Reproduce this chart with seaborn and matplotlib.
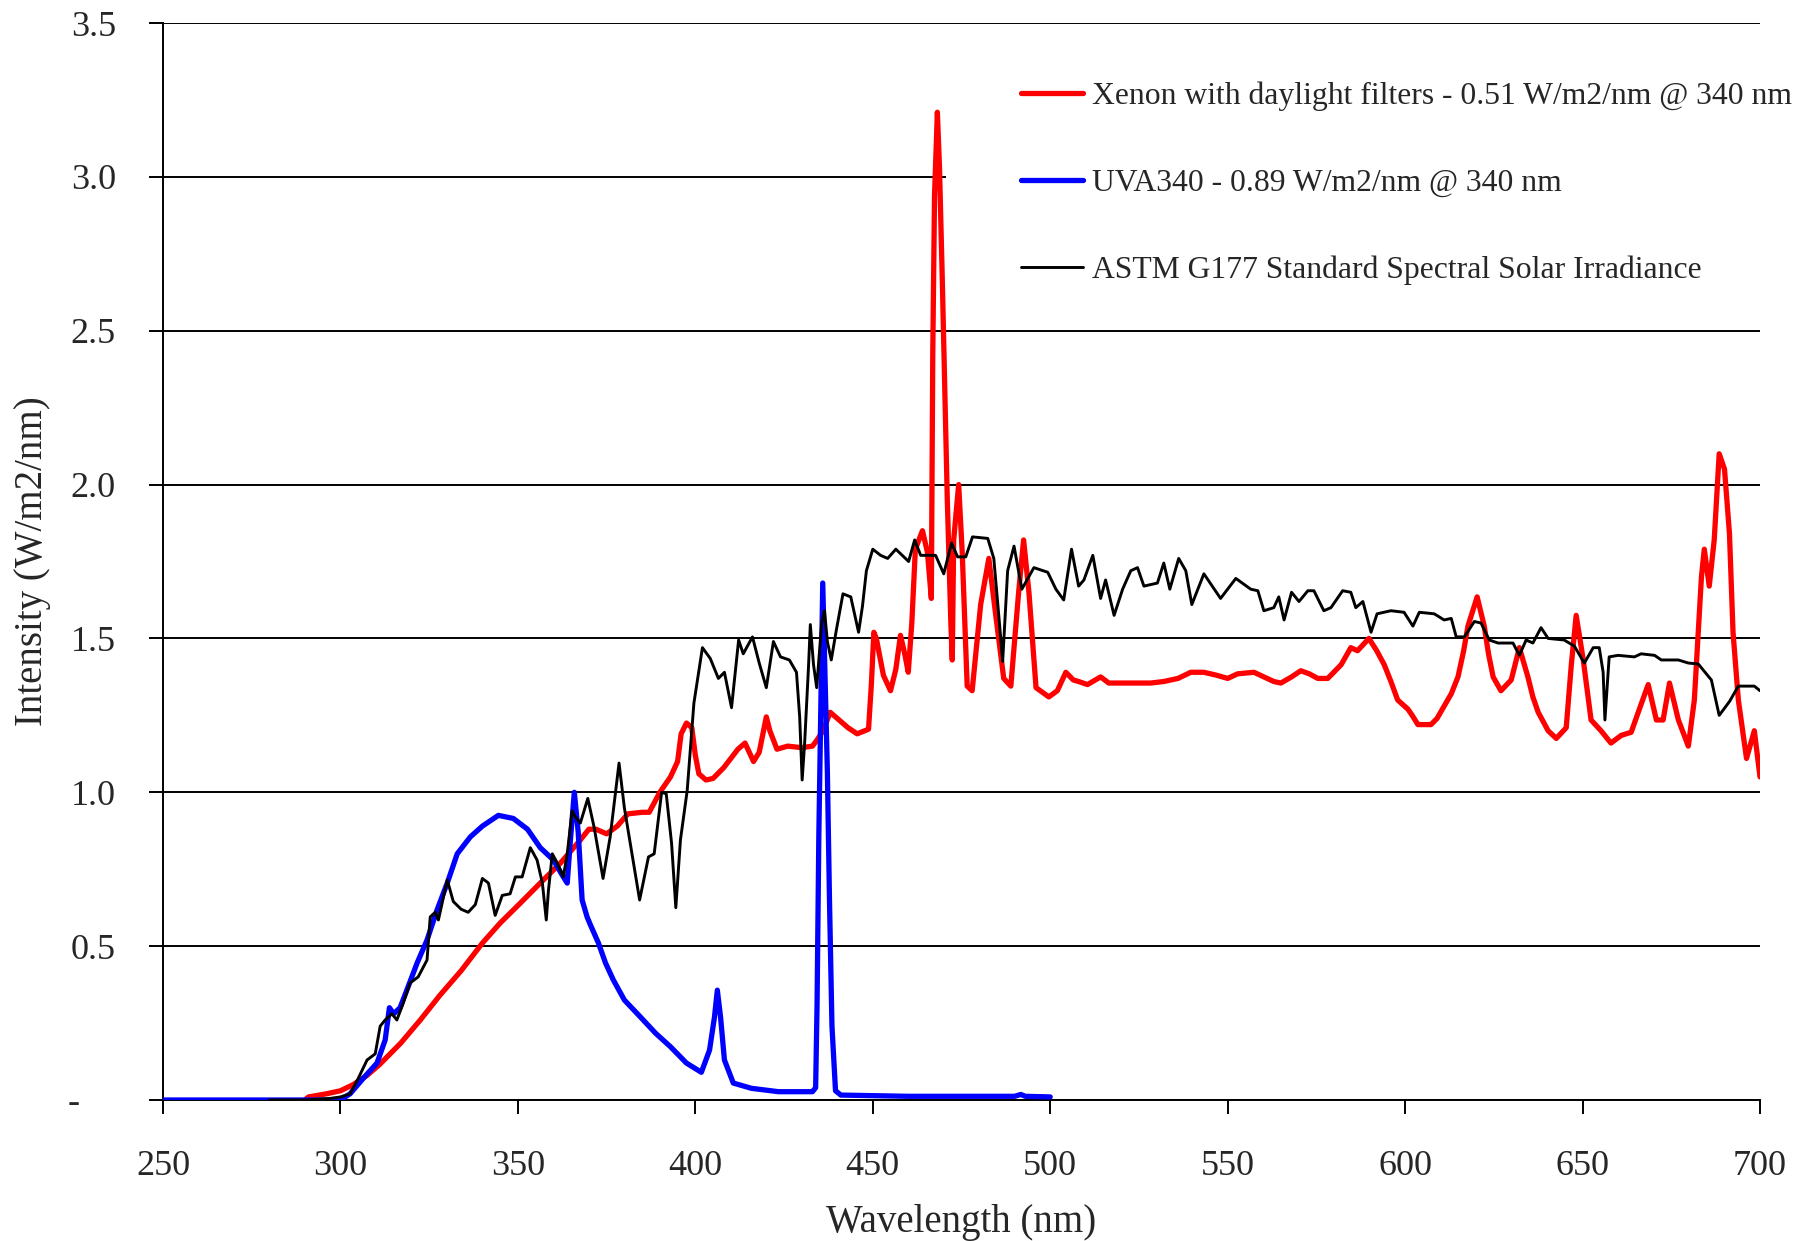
import matplotlib
matplotlib.use("Agg")
import matplotlib.pyplot as plt
from matplotlib.patches import Rectangle
import seaborn as sns
import pandas as pd

# Xenon arc lamp with daylight filters
xenon_nm = [290, 291, 296, 300, 303.6, 307.5, 311, 317, 322.5, 328, 334, 340, 345, 350.7, 356.3,
            362, 367.6, 370, 372, 375, 378, 381, 385, 387, 390, 393, 395, 396, 397.5, 399, 400,
            401, 403, 405, 408, 410, 412, 414, 416.4, 418, 420, 421, 423, 426, 430, 433, 434.3,
            436, 438, 440, 443, 445.6, 448.8, 449.6, 450.3, 451, 453, 455, 456.5, 457.8, 459, 460,
            461, 462, 464, 465.4, 466.5, 466.9, 467.4, 468.2, 468.8, 469.6, 470.3, 471, 472, 472.4,
            472.8, 474.2, 475.2, 476.6, 478, 480.4, 482.7, 484.6, 486.9, 488.9, 491.1, 492.5, 494,
            496, 499.6, 502, 504.4, 506.5, 508, 510.5, 514.2, 516.5, 521.8, 528.3, 532, 536, 539.6,
            543.3, 547, 550, 552.8, 557.4, 560.2, 563, 565, 568, 570.6, 573, 575.4, 578.2, 582,
            584.7, 586.6, 589.8, 592, 594.1, 596, 597.9, 600.8, 602, 603.6, 607.3, 609, 611, 613,
            614.9, 616.5, 617.7, 620.3, 622.3, 623.5, 624.8, 627, 629.9, 632.2, 634.6, 636, 637.5,
            640.3, 642.6, 645.4, 646.8, 648.2, 650.2, 652.4, 655.2, 658, 660.9, 663.7, 666, 668.5,
            670.8, 672.7, 674.5, 677, 679.8, 681.5, 683.5, 684.3, 685.7, 687.1, 688.5, 690, 691.4,
            692.4, 693.9, 696.2, 698.4, 700]
xenon_val = [0.0, 0.01, 0.02, 0.03, 0.05, 0.08, 0.115, 0.185, 0.26, 0.34, 0.42, 0.51, 0.575, 0.64, 0.705,
             0.77, 0.845, 0.88, 0.88, 0.865, 0.89, 0.93, 0.935, 0.935, 1.0, 1.05, 1.10, 1.19, 1.225, 1.21, 1.12,
             1.06, 1.04, 1.045, 1.08, 1.11, 1.14, 1.16, 1.10, 1.13, 1.245, 1.20, 1.14, 1.15, 1.145, 1.15, 1.17,
             1.20, 1.26, 1.24, 1.21, 1.19, 1.205, 1.35, 1.52, 1.50, 1.38, 1.33, 1.40, 1.51, 1.45, 1.39,
             1.55, 1.79, 1.85, 1.78, 1.63, 2.42, 2.94, 3.21, 3.03, 2.66, 2.31, 1.95, 1.55, 1.43,
             1.82, 2.0, 1.78, 1.345, 1.33, 1.61, 1.76, 1.58, 1.37, 1.345, 1.65, 1.82, 1.65,
             1.34, 1.31, 1.33, 1.39, 1.365, 1.36, 1.35, 1.375, 1.355, 1.355, 1.355, 1.36, 1.37, 1.39,
             1.39, 1.38, 1.37, 1.385, 1.39, 1.375, 1.36, 1.355, 1.375, 1.395, 1.385, 1.37, 1.37, 1.415,
             1.47, 1.46, 1.50, 1.46, 1.415, 1.36, 1.30, 1.27, 1.25, 1.22, 1.22, 1.24, 1.28, 1.32,
             1.375, 1.46, 1.54, 1.635, 1.54, 1.45, 1.375, 1.33, 1.365, 1.47, 1.375, 1.31, 1.26,
             1.20, 1.175, 1.21, 1.41, 1.575, 1.43, 1.235, 1.20, 1.16, 1.185, 1.195, 1.27, 1.35,
             1.235, 1.235, 1.355, 1.235, 1.15, 1.30, 1.70, 1.79, 1.67, 1.82, 2.10, 2.05, 1.84,
             1.52, 1.30, 1.11, 1.20, 1.05]

# UVA-340 fluorescent lamp
uva_nm = [250, 300, 302.7, 306.4, 310.3, 312.6, 313.8, 315, 316.8, 318.8, 321.6, 324.4, 327.3, 330.1,
          332.9, 336.6, 340, 344.5, 348.7, 352.7, 356.3, 360, 362.8, 363.9, 364.8, 365.9, 367, 368.1,
          369.5, 370.4, 372.7, 374.7, 376.9, 380, 384.5, 388.8, 393, 397.5, 401.7, 404, 405.4, 406.2,
          407.1, 408.2, 410.7, 415.8, 423.4, 433, 433.9, 434.3, 434.8, 435.9, 437.2, 437.8, 438.5,
          439.5, 441, 460, 490, 491.7, 493, 500]
uva_val = [0.0, 0.0, 0.02, 0.07, 0.12, 0.195, 0.30, 0.28, 0.30, 0.36, 0.445, 0.52, 0.62, 0.705,
           0.80, 0.855, 0.89, 0.925, 0.915, 0.88, 0.82, 0.78, 0.725, 0.705, 0.845, 1.0, 0.87, 0.65,
           0.595, 0.57, 0.51, 0.445, 0.39, 0.325, 0.27, 0.217, 0.173, 0.12, 0.09, 0.162, 0.27, 0.357,
           0.27, 0.13, 0.055, 0.038, 0.027, 0.027, 0.04, 0.31, 0.86, 1.68, 1.07, 0.65, 0.24,
           0.03, 0.016, 0.012, 0.012, 0.018, 0.012, 0.01]

# ASTM G177 reference solar spectrum
astm_nm = [280, 290, 297, 300, 302.7, 305, 307.5, 309.8, 311.2, 312.6, 314.5, 315.9, 317.7, 319.6, 321.9,
           324.4, 325.3, 326.7, 327.6, 330.1, 331.8, 334, 336, 338, 340, 341.7, 343.6, 345.6, 347.8,
           349.3, 351.2, 353.5, 355.4, 356.9, 358, 358.6, 359.7, 361.1, 362.8, 363.9, 365.3, 366.2,
           367.6, 369.7, 371.5, 374, 376, 378.5, 380, 384.3, 386.8, 388.4, 390.5, 391.8, 393.3, 394.5,
           395.8, 397.7, 399.6, 402, 404.2, 406.5, 408.2, 410.2, 412.2, 413.5, 416.1, 418, 420, 422,
           424, 426.5, 428.5, 429.4, 430.1, 430.8, 431.9, 432.4, 433.3, 434.2, 435.6, 436.4, 437.2,
           438.3, 439.7, 441.6, 443.8, 446, 447.1, 448.2, 450, 452.2, 454.2, 456.5, 458.3, 460.1,
           461.8, 463.5, 465.5, 467.7, 470, 472.2, 473.9, 476.2, 478.1, 482.4, 484.1, 485.5, 486.6,
           488, 489.8, 492, 495.4, 499.3, 501.6, 503.8, 506, 508, 509.5, 512, 514.2, 515.6, 518,
           520.4, 522.7, 524.6, 526.4, 530.2, 532, 533.7, 536.2, 538.2, 539.9, 543.3, 548, 552.3,
           556.5, 558.5, 560.2, 563, 564.4, 565.9, 568, 570.1, 572.6, 574.3, 577.1, 579.1, 582.4,
           584.7, 586.1, 588.1, 590.4, 592.1, 596, 599.7, 602.2, 604, 608.2, 611, 613, 614.4, 616.7,
           619.5, 621.4, 623.7, 626.2, 630.4, 632.2, 634.1, 636, 638.3, 640.3, 644.8, 647.7, 650.5,
           653, 654.7, 655.8, 656.3, 657.5, 660, 664.6, 666.5, 670.3, 672.2, 677, 679.8, 682.6,
           686.3, 688.5, 691.4, 693.9, 698.4, 700]
astm_val = [0.0, 0.0, 0.005, 0.01, 0.02, 0.07, 0.13, 0.15, 0.24, 0.26, 0.28, 0.26, 0.315, 0.38, 0.40,
            0.455, 0.595, 0.61, 0.585, 0.715, 0.645, 0.62, 0.61, 0.635, 0.72, 0.705, 0.60, 0.665, 0.67,
            0.725, 0.725, 0.82, 0.78, 0.705, 0.585, 0.68, 0.80, 0.77, 0.725, 0.80, 0.94, 0.92,
            0.90, 0.98, 0.885, 0.72, 0.855, 1.095, 0.95, 0.65, 0.79, 0.80, 1.0, 0.995, 0.835, 0.625,
            0.845, 1.005, 1.29, 1.47, 1.435, 1.37, 1.39, 1.275, 1.495, 1.45, 1.505, 1.42, 1.34, 1.49,
            1.44, 1.43, 1.39, 1.245, 1.04, 1.16, 1.41, 1.545, 1.415, 1.34, 1.55, 1.59, 1.49,
            1.43, 1.525, 1.645, 1.635, 1.52, 1.605, 1.72, 1.79, 1.77, 1.76, 1.79, 1.77, 1.75,
            1.82, 1.77, 1.77, 1.77, 1.71, 1.81, 1.765, 1.765, 1.83, 1.825, 1.76, 1.575, 1.425,
            1.72, 1.80, 1.66, 1.73, 1.715, 1.66, 1.625, 1.79, 1.67, 1.69, 1.77, 1.63, 1.69, 1.575,
            1.66, 1.72, 1.73, 1.67, 1.68, 1.745, 1.66, 1.76, 1.72, 1.61, 1.71, 1.63, 1.695,
            1.66, 1.655, 1.59, 1.60, 1.635, 1.56, 1.65, 1.62, 1.655, 1.655, 1.59, 1.60, 1.655,
            1.65, 1.60, 1.62, 1.52, 1.58, 1.59, 1.585, 1.54, 1.585, 1.58, 1.56, 1.565, 1.505, 1.505,
            1.555, 1.55, 1.495, 1.485, 1.485, 1.445, 1.495, 1.485, 1.535, 1.50, 1.495, 1.475, 1.42,
            1.47, 1.47, 1.39, 1.235, 1.44, 1.445, 1.44, 1.45, 1.445, 1.43, 1.43, 1.42, 1.417,
            1.365, 1.25, 1.295, 1.345, 1.345, 1.33]

series_labels = ["Xenon with daylight filters - 0.51 W/m2/nm @ 340 nm",
                 "UVA340 - 0.89 W/m2/nm @ 340 nm",
                 "ASTM G177 Standard Spectral Solar Irradiance"]
x_ticks = [250, 300, 350, 400, 450, 500, 550, 600, 650, 700]
y_ticks = [0.0, 0.5, 1.0, 1.5, 2.0, 2.5, 3.0, 3.5]
y_tick_labels = ["-    ", "0.5", "1.0", "1.5", "2.0", "2.5", "3.0", "3.5"]

sns.set_style("white")
plt.rcParams["font.family"] = ["Liberation Serif", "DejaVu Serif"]
plt.rcParams["font.size"] = 26

fig = plt.figure(figsize=(18.02, 12.41), dpi=100)
ax = fig.add_axes([163 / 1802, 1 - 1100 / 1241, (1760 - 163) / 1802, (1100 - 23) / 1241])

for yv in y_ticks:
    ax.axhline(yv, color="black", lw=1.4, zorder=1)

# white backing behind the legend block (hides the gridline running under it)
ax.add_patch(Rectangle((0.49, 0.73), 0.52, 0.255, transform=ax.transAxes,
                       facecolor="white", edgecolor="none", zorder=2, clip_on=False))

frames = [
    (pd.DataFrame({"nm": xenon_nm, "val": xenon_val}), "#FF0000", 3.8, series_labels[0]),
    (pd.DataFrame({"nm": uva_nm, "val": uva_val}), "#0000FF", 3.8, series_labels[1]),
    (pd.DataFrame({"nm": astm_nm, "val": astm_val}), "black", 2.1, series_labels[2]),
]
for df, col, lw, lab in frames:
    sns.lineplot(data=df, x="nm", y="val", ax=ax, color=col, lw=lw, label=lab,
                 estimator=None, sort=False, zorder=3)

ax.set_xlim(250, 700)
ax.set_ylim(0, 3.5)
ax.set_xticks(x_ticks)
ax.set_xticklabels([str(v) for v in x_ticks])
ax.set_yticks(y_ticks)
ax.set_yticklabels(y_tick_labels)

for side in ["top", "right"]:
    ax.spines[side].set_visible(False)
for side in ["left", "bottom"]:
    ax.spines[side].set_color("black")
    ax.spines[side].set_linewidth(1.4)

ax.tick_params(axis="x", direction="out", length=10, width=1.4, color="black", pad=26,
               labelsize=26, bottom=True)
ax.tick_params(axis="y", direction="out", length=10, width=1.4, color="black", pad=24,
               labelsize=26, left=True)

ax.set_xlabel("Wavelength (nm)", fontsize=28, labelpad=15)
ax.set_ylabel("Intensity (W/m2/nm)", fontsize=28, labelpad=12)

ax.legend(loc="upper left", bbox_to_anchor=(1008 / 1802, 1 - 69 / 1241),
          bbox_transform=fig.transFigure, frameon=False, fontsize=22.8,
          handlelength=1.97, handletextpad=0.28, labelspacing=1.82, borderaxespad=0)

fig.savefig("out.png", dpi=100, facecolor="white")
